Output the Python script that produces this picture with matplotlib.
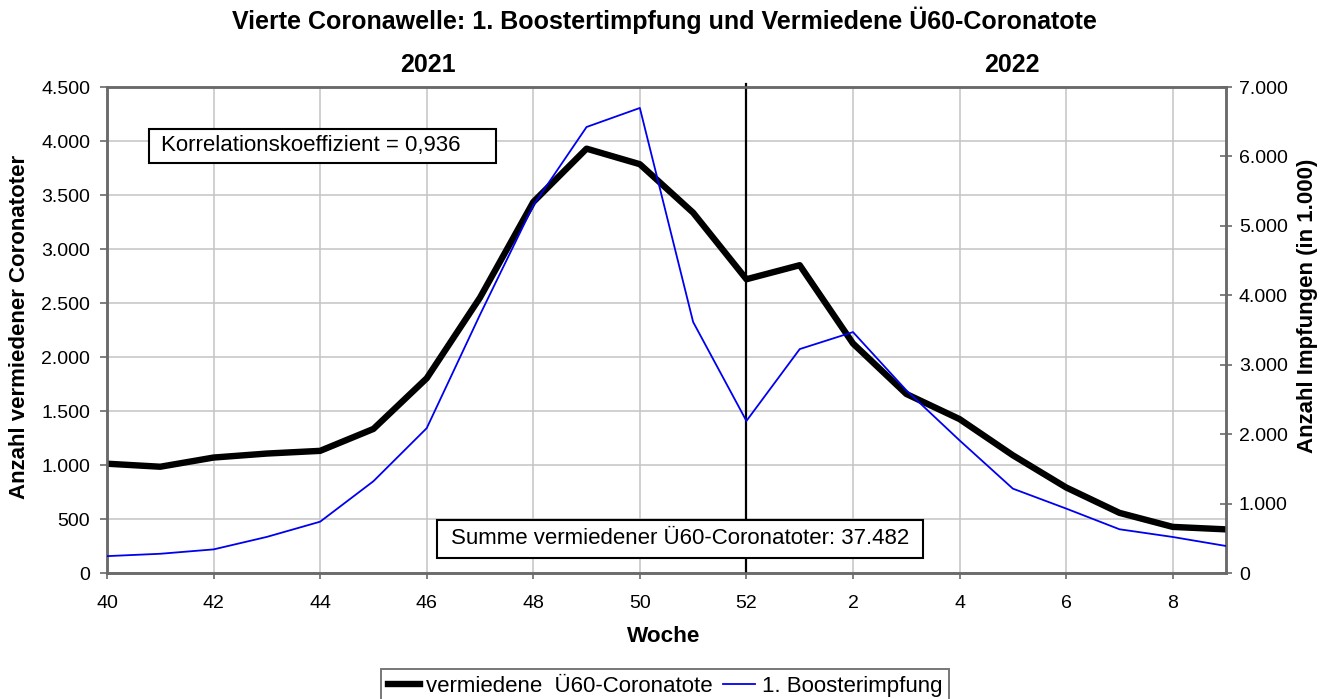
import matplotlib
matplotlib.use('Agg')
import matplotlib.pyplot as plt
from matplotlib.patches import Rectangle
from matplotlib.ticker import FuncFormatter, MultipleLocator

plt.rcParams['font.family'] = ['Liberation Sans', 'DejaVu Sans']

weeks = ['40', '41', '42', '43', '44', '45', '46', '47', '48', '49', '50', '51', '52',
         '1', '2', '3', '4', '5', '6', '7', '8', '9']
avoided_deaths = [1012, 984, 1069, 1106, 1131, 1334, 1803, 2550, 3435, 3929, 3785, 3336,
                  2720, 2850, 2125, 1658, 1425, 1090, 792, 557, 427, 404]
booster_1000 = [243, 277, 340, 520, 739, 1322, 2086, 3720, 5295, 6424, 6698, 3615,
                2190, 3225, 3470, 2632, 1910, 1215, 928, 630, 519, 389]

title = 'Vierte Coronawelle: 1. Boostertimpfung und Vermiedene Ü60-Coronatote'
years = ['2021', '2022']
corr_text = 'Korrelationskoeffizient = 0,936'
sum_text = 'Summe vermiedener Ü60-Coronatoter: 37.482'

def de_fmt(v, pos=None):
    return f'{int(round(v)):,}'.replace(',', '.')

W, H = 1330, 699
fig = plt.figure(figsize=(W / 100, H / 100), dpi=100)
L, R, T, B = 107, 1226, 87, 573
ax = fig.add_axes([L / W, 1 - B / H, (R - L) / W, (B - T) / H])
x = list(range(len(weeks)))

ax.plot(x, avoided_deaths, color='black', lw=4.6, zorder=3,
        label='vermiedene  Ü60-Coronatote')
ax.set_xlim(0, len(weeks) - 1)
ax.set_ylim(0, 4500)
ax.yaxis.set_major_locator(MultipleLocator(500))
ax.yaxis.set_major_formatter(FuncFormatter(de_fmt))
ticks = list(range(0, len(weeks), 2))
ax.set_xticks(ticks)
ax.set_xticklabels([weeks[i] for i in ticks])
ax.grid(True, color='#c4c4c4', lw=1.1, zorder=0)
ax.set_axisbelow(True)

# year separator at week 52
sep = weeks.index('52')
ax.plot([sep, sep], [0, 4530], color='black', lw=1.6, clip_on=False, zorder=4)

ax2 = ax.twinx()
ax2.plot(x, booster_1000, color='#0000f0', lw=1.3, zorder=5, label='1. Boosterimpfung')
ax2.set_ylim(0, 7000)
ax2.yaxis.set_major_locator(MultipleLocator(1000))
ax2.yaxis.set_major_formatter(FuncFormatter(de_fmt))

for a in (ax, ax2):
    for s in a.spines.values():
        s.set_color('#6a6a6a')
        s.set_linewidth(1.8)
ax.tick_params(axis='y', labelsize=14, length=5, width=1.2, color='#6a6a6a',
               direction='out', pad=7)
ax.tick_params(axis='x', labelsize=14, length=4.5, width=1.2, color='#6a6a6a',
               direction='out', pad=11)
ax2.tick_params(axis='y', labelsize=14, length=8.6, width=1.2, color='#6a6a6a',
                direction='inout', pad=5)

fig.text(20 / W, 1 - 327 / H, 'Anzahl vermiedener Coronatoter', rotation=90,
         ha='center', va='center', fontsize=16, fontweight='bold')
fig.text(1308 / W, 1 - 306 / H, 'Anzahl Impfungen (in 1.000)', rotation=90,
         ha='center', va='center', fontsize=16, fontweight='bold')
fig.text(664 / W, 1 - 637 / H, 'Woche', ha='center', va='center',
         fontsize=16.2, fontweight='bold')

fig.text(664 / W, 1 - 29 / H, title, ha='center', va='baseline', fontsize=18,
         fontweight='bold')
fig.text(428 / W, 1 - 72 / H, years[0], ha='center', va='baseline', fontsize=18,
         fontweight='bold')
fig.text(1012 / W, 1 - 72 / H, years[1], ha='center', va='baseline', fontsize=18,
         fontweight='bold')

def text_box(x0, x1, y0, y1, tx, s):
    fig.patches.append(Rectangle((x0 / W, 1 - y1 / H), (x1 - x0) / W, (y1 - y0) / H,
                                 transform=fig.transFigure, facecolor='white',
                                 edgecolor='black', lw=1.5, zorder=9))
    fig.text(tx / W, 1 - (y0 + y1) / 2 / H, s, ha='left', va='center', fontsize=16,
             zorder=10)

text_box(149, 496, 129, 163, 161, corr_text)
text_box(437, 923, 520, 558, 451, sum_text)

h1, l1 = ax.get_legend_handles_labels()
h2, l2 = ax2.get_legend_handles_labels()
leg = fig.legend(h1 + h2, l1 + l2, loc='upper center', bbox_to_anchor=(665 / W, 1 - 669 / H),
                 ncol=2, fontsize=16, frameon=True, fancybox=False, edgecolor='#555555',
                 handlelength=1.45, handletextpad=0.3, columnspacing=0.45,
                 borderpad=0.3, borderaxespad=0)
leg.get_frame().set_linewidth(1.4)

fig.savefig('out.png', dpi=100)
